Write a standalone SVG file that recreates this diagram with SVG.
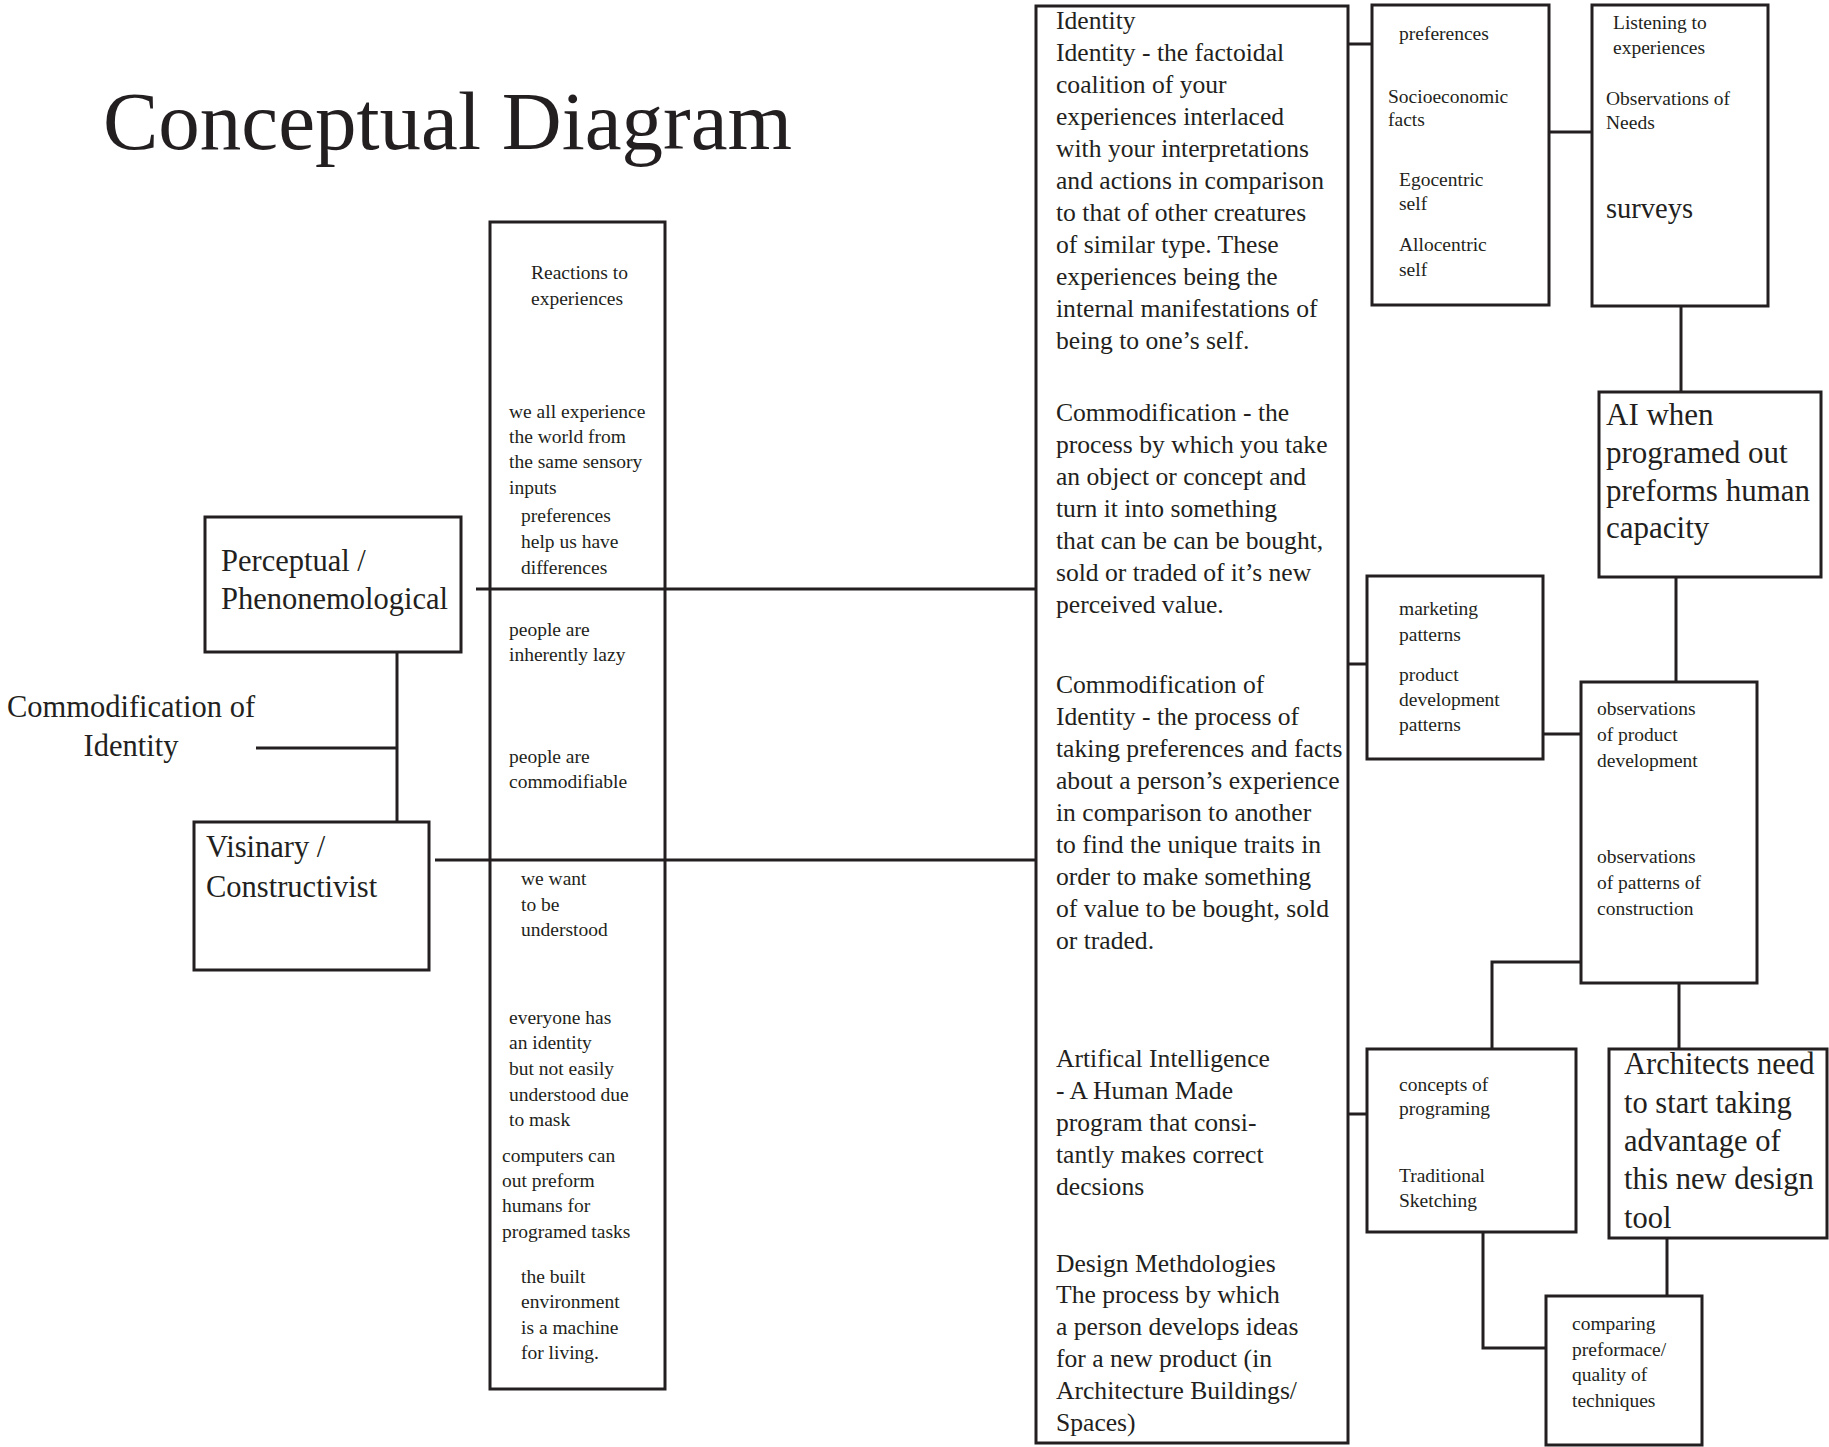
<svg xmlns="http://www.w3.org/2000/svg" width="1829" height="1447" viewBox="0 0 1829 1447">
  <style>
    .box { fill: #ffffff; stroke: #231f20; stroke-width: 3; }
    .wire { fill: none; stroke: #231f20; stroke-width: 3; }
    text { font-family: "Liberation Serif", "Times New Roman", serif; fill: #231f20; }
    .title { font-size: 83px; }
    .big { font-size: 30.5px; }
    .def { font-size: 25.6px; }
    .note { font-size: 19.5px; }
    .small { font-size: 19.5px; }
  </style>
  <rect width="1829" height="1447" fill="#ffffff"/>

  <text class="title" x="103" y="149">Conceptual Diagram</text>

  <!-- connectors -->
  <g id="connectors">
    <path class="wire" d="M476 589 H1036"/>
    <path class="wire" d="M435 860 H1036"/>
    <path class="wire" d="M397 652 V822"/>
    <path class="wire" d="M256 748 H397"/>
    <path class="wire" d="M1348 44 H1372"/>
    <path class="wire" d="M1549 132 H1592"/>
    <path class="wire" d="M1681 306 V392"/>
    <path class="wire" d="M1676 577 V682"/>
    <path class="wire" d="M1348 664 H1367"/>
    <path class="wire" d="M1543 734 H1581"/>
    <path class="wire" d="M1581 962 H1492 V1049"/>
    <path class="wire" d="M1348 1114 H1367"/>
    <path class="wire" d="M1679 983 V1049"/>
    <path class="wire" d="M1483 1232 V1348 H1546"/>
    <path class="wire" d="M1667 1238 V1296"/>
  </g>

  <!-- free label on the left -->
  <g id="commodification-label">
    <text class="big" x="131" y="717" text-anchor="middle">Commodification of</text>
    <text class="big" x="131" y="756" text-anchor="middle">Identity</text>
  </g>

  <g id="perceptual">
    <rect class="box" x="205" y="517" width="256" height="135"/>
    <text class="big" x="221" y="571">Perceptual /</text>
    <text class="big" x="221" y="609">Phenonemological</text>
  </g>

  <g id="visinary">
    <rect class="box" x="194" y="822" width="235" height="148"/>
    <text class="big" x="206" y="857">Visinary /</text>
    <text class="big" x="206" y="897">Constructivist</text>
  </g>

  <!-- column of statements; the two wires pass over it -->
  <g id="statements">
    <rect class="box" x="490" y="222" width="175" height="1167" style="fill:none"/>
    <text class="note" x="531" y="279">Reactions to</text>
    <text class="note" x="531" y="305">experiences</text>
    <text class="note" x="509" y="418">we all experience</text>
    <text class="note" x="509" y="443">the world from</text>
    <text class="note" x="509" y="468">the same sensory</text>
    <text class="note" x="509" y="494">inputs</text>
    <text class="note" x="521" y="522">preferences</text>
    <text class="note" x="521" y="548">help us have</text>
    <text class="note" x="521" y="574">differences</text>
    <text class="note" x="509" y="636">people are</text>
    <text class="note" x="509" y="661">inherently lazy</text>
    <text class="note" x="509" y="763">people are</text>
    <text class="note" x="509" y="788">commodifiable</text>
    <text class="note" x="521" y="885">we want</text>
    <text class="note" x="521" y="911">to be</text>
    <text class="note" x="521" y="936">understood</text>
    <text class="note" x="509" y="1024">everyone has</text>
    <text class="note" x="509" y="1049">an identity</text>
    <text class="note" x="509" y="1075">but not easily</text>
    <text class="note" x="509" y="1101">understood due</text>
    <text class="note" x="509" y="1126">to mask</text>
    <text class="note" x="502" y="1162">computers can</text>
    <text class="note" x="502" y="1187">out preform</text>
    <text class="note" x="502" y="1212">humans for</text>
    <text class="note" x="502" y="1238">programed tasks</text>
    <text class="note" x="521" y="1283">the built</text>
    <text class="note" x="521" y="1308">environment</text>
    <text class="note" x="521" y="1334">is a machine</text>
    <text class="note" x="521" y="1359">for living.</text>
  </g>

  <g id="definitions">
    <rect class="box" x="1036" y="6" width="312" height="1437"/>
    <text class="def" x="1056" y="29">Identity</text>
    <text class="def" x="1056" y="61">Identity - the factoidal</text>
    <text class="def" x="1056" y="93">coalition of your</text>
    <text class="def" x="1056" y="125">experiences interlaced</text>
    <text class="def" x="1056" y="157">with your interpretations</text>
    <text class="def" x="1056" y="189">and actions in comparison</text>
    <text class="def" x="1056" y="221">to that of other creatures</text>
    <text class="def" x="1056" y="253">of similar type. These</text>
    <text class="def" x="1056" y="285">experiences being the</text>
    <text class="def" x="1056" y="317">internal manifestations of</text>
    <text class="def" x="1056" y="349">being to one’s self.</text>

    <text class="def" x="1056" y="421">Commodification - the</text>
    <text class="def" x="1056" y="453">process by which you take</text>
    <text class="def" x="1056" y="485">an object or concept and</text>
    <text class="def" x="1056" y="517">turn it into something</text>
    <text class="def" x="1056" y="549">that can be can be bought,</text>
    <text class="def" x="1056" y="581">sold or traded of it’s new</text>
    <text class="def" x="1056" y="613">perceived value.</text>

    <text class="def" x="1056" y="693">Commodification of</text>
    <text class="def" x="1056" y="725">Identity - the process of</text>
    <text class="def" x="1056" y="757">taking preferences and facts</text>
    <text class="def" x="1056" y="789">about a person’s experience</text>
    <text class="def" x="1056" y="821">in comparison to another</text>
    <text class="def" x="1056" y="853">to find the unique traits in</text>
    <text class="def" x="1056" y="885">order to make something</text>
    <text class="def" x="1056" y="917">of value to be bought, sold</text>
    <text class="def" x="1056" y="949">or traded.</text>

    <text class="def" x="1056" y="1067">Artifical Intelligence</text>
    <text class="def" x="1056" y="1099">- A Human Made</text>
    <text class="def" x="1056" y="1131">program that consi-</text>
    <text class="def" x="1056" y="1163">tantly makes correct</text>
    <text class="def" x="1056" y="1195">decsions</text>

    <text class="def" x="1056" y="1272">Design Methdologies</text>
    <text class="def" x="1056" y="1303">The process by which</text>
    <text class="def" x="1056" y="1335">a person develops ideas</text>
    <text class="def" x="1056" y="1367">for a new product (in</text>
    <text class="def" x="1056" y="1399">Architecture Buildings/</text>
    <text class="def" x="1056" y="1431">Spaces)</text>
  </g>

  <g id="preferences">
    <rect class="box" x="1372" y="5" width="177" height="300"/>
    <text class="small" x="1399" y="40">preferences</text>
    <text class="small" x="1388" y="103">Socioeconomic</text>
    <text class="small" x="1388" y="126">facts</text>
    <text class="small" x="1399" y="186">Egocentric</text>
    <text class="small" x="1399" y="210">self</text>
    <text class="small" x="1399" y="251">Allocentric</text>
    <text class="small" x="1399" y="276">self</text>
  </g>

  <g id="listening">
    <rect class="box" x="1592" y="5" width="176" height="301"/>
    <text class="small" x="1613" y="29">Listening to</text>
    <text class="small" x="1613" y="54">experiences</text>
    <text class="small" x="1606" y="105">Observations of</text>
    <text class="small" x="1606" y="129">Needs</text>
    <text x="1606" y="218" style="font-size:28.5px">surveys</text>
  </g>

  <g id="ai-capacity">
    <rect class="box" x="1599" y="392" width="222" height="185"/>
    <text x="1606" y="425" style="font-size:31px">AI when</text>
    <text x="1606" y="463" style="font-size:31px">programed out</text>
    <text x="1606" y="501" style="font-size:31px">preforms human</text>
    <text x="1606" y="538" style="font-size:31px">capacity</text>
  </g>

  <g id="marketing">
    <rect class="box" x="1367" y="576" width="176" height="183"/>
    <text class="small" x="1399" y="615">marketing</text>
    <text class="small" x="1399" y="641">patterns</text>
    <text class="small" x="1399" y="681">product</text>
    <text class="small" x="1399" y="706">development</text>
    <text class="small" x="1399" y="731">patterns</text>
  </g>

  <g id="observations">
    <rect class="box" x="1581" y="682" width="176" height="301"/>
    <text class="small" x="1597" y="715">observations</text>
    <text class="small" x="1597" y="741">of product</text>
    <text class="small" x="1597" y="767">development</text>
    <text class="small" x="1597" y="863">observations</text>
    <text class="small" x="1597" y="889">of patterns of</text>
    <text class="small" x="1597" y="915">construction</text>
  </g>

  <g id="concepts">
    <rect class="box" x="1367" y="1049" width="209" height="183"/>
    <text class="small" x="1399" y="1091">concepts of</text>
    <text class="small" x="1399" y="1115">programing</text>
    <text class="small" x="1399" y="1182">Traditional</text>
    <text class="small" x="1399" y="1207">Sketching</text>
  </g>

  <g id="architects">
    <rect class="box" x="1609" y="1049" width="218" height="189"/>
    <text class="big" x="1624" y="1074">Architects need</text>
    <text class="big" x="1624" y="1113">to start taking</text>
    <text class="big" x="1624" y="1151">advantage of</text>
    <text class="big" x="1624" y="1189">this new design</text>
    <text class="big" x="1624" y="1228">tool</text>
  </g>

  <g id="comparing">
    <rect class="box" x="1546" y="1296" width="156" height="149"/>
    <text class="small" x="1572" y="1330">comparing</text>
    <text class="small" x="1572" y="1356">preformace/</text>
    <text class="small" x="1572" y="1381">quality of</text>
    <text class="small" x="1572" y="1407">techniques</text>
  </g>
</svg>
